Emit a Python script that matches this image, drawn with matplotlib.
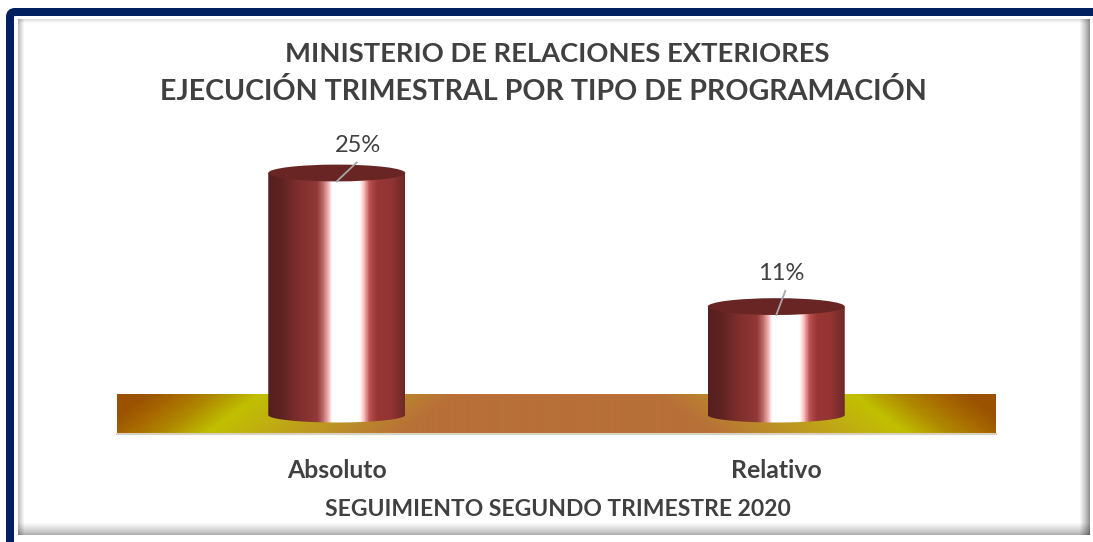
import numpy as np
import matplotlib
matplotlib.use("Agg")
import matplotlib.pyplot as plt
from matplotlib.colors import LinearSegmentedColormap
from matplotlib.patches import Ellipse, PathPatch, FancyBboxPatch
from matplotlib.path import Path

categories = ["Absoluto", "Relativo"]
values = [25, 11.2]
title_lines = ["MINISTERIO DE RELACIONES EXTERIORES", "EJECUCIÓN TRIMESTRAL POR TIPO DE PROGRAMACIÓN"]
footer = "SEGUIMIENTO SEGUNDO TRIMESTRE 2020"

W, H = 1093, 542
plt.rcParams["font.family"] = ["Lato", "DejaVu Sans"]
fig = plt.figure(figsize=(W / 100, H / 100), dpi=100, facecolor="white")

# frame layer in pixel space
bg = fig.add_axes([0, 0, 1, 1])
bg.set_xlim(0, W); bg.set_ylim(H, 0); bg.axis("off")
bg.add_patch(FancyBboxPatch((10, 12), W + 40, H + 40, boxstyle="round,pad=0,rounding_size=5",
                            fc="white", ec="#002060", lw=5.76))
# bevelled inner panel
yy, xx = np.mgrid[0:H, 0:W]
left = np.clip((xx - 18) / 6, 0, 1) * 0.25 + 0.75
top = np.clip((yy - 19) / 4, 0, 1) * 0.12 + 0.88
right = np.clip((1090 - xx) / 11, 0, 1) ** 0.8 * 0.5 + 0.5
bottom = np.clip((535 - yy) / 13, 0, 1) ** 0.8 * 0.36 + 0.64
shade = left * top * right * bottom
x0, x1, y0, y1 = 18, 1090, 19, 535
bg.imshow(shade[y0:y1, x0:x1], extent=(x0, x1, y1, y0), cmap="gray", vmin=0, vmax=1,
          aspect="auto", zorder=2, interpolation="bilinear")
bg.set_xlim(0, W); bg.set_ylim(H, 0)

# data layer: pixel box of plot area
px_left, px_right, px_top, px_bottom = 117, 996, 130, 434
ax = fig.add_axes([px_left / W, 1 - px_bottom / H, (px_right - px_left) / W, (px_bottom - px_top) / H])
ax.patch.set_alpha(0)
ax.axis("off")
px_per_unit = 9.68
ax.set_xlim(-0.5, 1.5)
ax.set_ylim(-(px_bottom - 415) / px_per_unit, (415 - px_top) / px_per_unit)
ymin, ymax = ax.get_ylim()

# floor
floor_top = (415 - 394) / px_per_unit
fx = np.linspace(0, 1, 500)
fy = np.linspace(0, 1, 40)
FX, FY = np.meshgrid(fx, fy)
shear = (FY - 0.5) * 0.06
L = LinearSegmentedColormap.from_list("floor", [
    (0.00, "#9a5200"), (0.04, "#a86a00"), (0.08, "#b08a00"), (0.13, "#c0c000"), (0.18, "#c0b010"),
    (0.26, "#bc9424"), (0.35, "#b87038"),
    (0.65, "#b87038"), (0.74, "#bc9424"), (0.82, "#c0b010"), (0.87, "#c0c000"), (0.92, "#b08a00"),
    (0.96, "#a86a00"), (1.00, "#9a5200")])
ax.imshow(np.clip(FX - shear * np.sign(FX - 0.5), 0, 1), extent=(-0.5, 1.5, ymin, floor_top), origin="upper",
          cmap=L, vmin=0, vmax=1, aspect="auto", zorder=1)
ax.plot([-0.5, 1.5], [ymin, ymin], color="#d8d0c0", lw=1.5, zorder=1.5, clip_on=False)

# cylinders
cyl = LinearSegmentedColormap.from_list("cyl", [
    (0.00, "#54201f"), (0.10, "#5f2322"), (0.20, "#7a2d2c"), (0.30, "#8a3332"), (0.36, "#933a38"), (0.40, "#b86a68"),
    (0.44, "#f0b0b0"), (0.467, "#ffffff"), (0.67, "#ffffff"), (0.70, "#ffc0c0"), (0.745, "#b8504e"),
    (0.80, "#983635"), (0.90, "#933433"), (1.00, "#6e2a29")])
bar_w = 137 / 439.5
ell_h = 15 / px_per_unit
leader_dx = [20 / 439.5, 9 / 439.5]
leader_rise = [19 / px_per_unit, 24 / px_per_unit]
label_dx = [21 / 439.5, 5 / 439.5]
for i, v in enumerate(values):
    xl, xr = i - bar_w / 2, i + bar_w / 2
    theta = np.linspace(np.pi, 2 * np.pi, 60)
    bx = i + bar_w / 2 * np.cos(theta)
    by = 0 + ell_h / 2 * np.sin(theta)
    verts = np.vstack([np.column_stack([bx, by]), [[xr, v], [xl, v], [xl, 0]]])
    clip = PathPatch(Path(verts), transform=ax.transData, fc="none", ec="none")
    ax.add_patch(clip)
    im = ax.imshow(np.linspace(0, 1, 300)[None, :], extent=(xl, xr, -ell_h, v), cmap=cyl,
                   vmin=0, vmax=1, aspect="auto", zorder=3)
    im.set_clip_path(clip)
    ax.add_patch(Ellipse((i, v), bar_w, ell_h * 1.12, fc="#682524", ec="none", zorder=4))
    # leader line and label
    y_start = v - ell_h * 0.56
    ax.plot([i, i + leader_dx[i]], [y_start, y_start + leader_rise[i]],
            color="#a6a6a6", lw=1.3, zorder=5, clip_on=False)
    ax.text(i + label_dx[i], y_start + leader_rise[i] + 0.7, f"{v:.0f}%", ha="center", va="bottom",
            fontsize=17, color="#404040", zorder=6)
    # category labels
    ax.text(i, ymin - 37 / px_per_unit, categories[i], ha="center", va="center", fontsize=17.8,
            fontweight="bold", color="#404040", clip_on=False)
ax.set_xlim(-0.5, 1.5); ax.set_ylim(ymin, ymax)

for line, x, y, fs in zip(title_lines, (557, 543), (54, 91), (19.7, 20.6)):
    fig.text(x / W, 1 - y / H, line, ha="center", va="center", fontsize=fs, fontweight="bold", color="#404040")
fig.text(558 / W, 1 - 510 / H, footer, ha="center", va="center", fontsize=16.5, fontweight="bold", color="#404040")

fig.savefig("out.png", dpi=100, facecolor="white")
